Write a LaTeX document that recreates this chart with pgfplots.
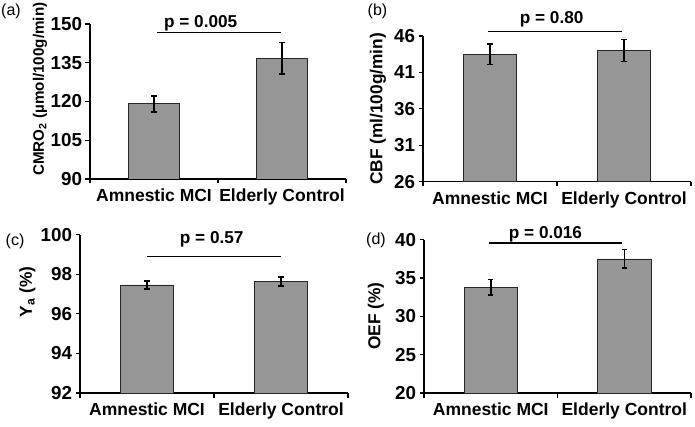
\documentclass[border=0pt]{standalone}
\usepackage{pgfplots}
\pgfplotsset{compat=1.18}
\usepackage{fontspec}
\setmainfont{Liberation Sans}
\definecolor{barfill}{RGB}{150,150,150}
\pgfplotsset{
  panel/.style={
    scale only axis,
    anchor=south west,
    axis x line*=bottom, axis y line*=left,
    axis line style={line width=1.2pt, black},
    xmin=0, xmax=2,
    xtick={0,1,2}, xticklabels={,,},
    extra x ticks={0.5,1.5},
    extra x tick labels={Amnestic MCI,Elderly Control},
    extra x tick style={major tick length=0pt, tick style={draw=none},
      xticklabel style={font=\fontsize{17.5}{20}\selectfont\bfseries, yshift=-6.5pt}},
    tick align=outside,
    major tick length=4.5pt,
    tick style={line width=1.2pt, black},
    yticklabel style={font=\fontsize{18.8}{20}\selectfont\bfseries},
    /pgf/number format/assume math mode=true,
    ylabel style={font=\fontsize{17.3}{20}\selectfont\bfseries, anchor=center},
    ybar, bar width=0.4,
    clip mode=individual,
  },
  bars/.style={fill=barfill, draw=black!85, line width=0.7pt,
    error bars/.cd, y dir=both, y explicit,
    error bar style={line width=1.5pt, black},
    error mark options={rotate=90, mark size=2.6pt, line width=1.5pt, black}},
}
\newcommand{\ptext}[1]{\fontsize{17.2}{20}\selectfont\bfseries #1}
\begin{document}
\begin{tikzpicture}
\useasboundingbox (0,0) rectangle (695pt,426pt);
% (a)
\begin{axis}[panel, at={(90pt,247pt)}, width=256pt, height=155pt,
  ymin=90, ymax=150, ytick={90,105,120,135,150},
  ylabel={CMRO\textsubscript{2} (µmol/100g/min)},
  ylabel style={font=\fontsize{15.2}{18}\selectfont\bfseries, at={(axis description cs:-0.195,0.58)}}]
\addplot[bars] coordinates {(0.5,119.1) +- (0,3.1) (1.5,136.7) +- (0,6.1)};
\draw[line width=1.4pt] (axis cs:0.523,146.6) -- (axis cs:1.49,146.6);
\node[anchor=base] at (axis cs:0.865,148.7) {\ptext{p = 0.005}};
\end{axis}
% (b)
\begin{axis}[panel, at={(423pt,244.3pt)}, width=268pt, height=145.7pt,
  ymin=26, ymax=46, ytick={26,31,36,41,46},
  ylabel={CBF (ml/100g/min)},
  ylabel style={at={(axis description cs:-0.168,0.5)}}]
\addplot[bars] coordinates {(0.5,43.5) +- (0,1.4) (1.5,44.0) +- (0,1.5)};
\draw[line width=1.4pt] (axis cs:0.485,46.6) -- (axis cs:1.485,46.6);
\node[anchor=base] at (axis cs:0.96,47.65) {\ptext{p = 0.80}};
\end{axis}
% (c)
\begin{axis}[panel, at={(80pt,33pt)}, width=268pt, height=158.3pt,
  ymin=92, ymax=100, ytick={92,94,96,98,100},
  ylabel={Y\textsubscript{a} (\%)},
  ylabel style={at={(axis description cs:-0.196,0.638)}}]
\addplot[bars] coordinates {(0.5,97.46) +- (0,0.21) (1.5,97.64) +- (0,0.22)};
\draw[line width=1.4pt] (axis cs:0.5,98.9) -- (axis cs:1.5,98.9);
\node[anchor=base] at (axis cs:0.983,99.55) {\ptext{p = 0.57}};
\end{axis}
% (d)
\begin{axis}[panel, at={(424pt,33pt)}, width=267pt, height=153.3pt,
  ymin=20, ymax=40, ytick={20,25,30,35,40},
  ylabel={OEF (\%)},
  ylabel style={at={(axis description cs:-0.18,0.5)}}]
\addplot[bars] coordinates {(0.5,33.8) +- (0,1.0) (1.5,37.5) +- (0,1.2)};
\draw[line width=1.4pt] (axis cs:0.487,39.57) -- (axis cs:1.483,39.57);
\node[anchor=base] at (axis cs:0.91,40.22) {\ptext{p = 0.016}};
\end{axis}
% panel letters
\node[font=\fontsize{16}{18}\selectfont] at (11pt,415pt) {(a)};
\node[font=\fontsize{16}{18}\selectfont] at (377.5pt,415pt) {(b)};
\node[font=\fontsize{16}{18}\selectfont] at (15pt,185pt) {(c)};
\node[font=\fontsize{16}{18}\selectfont] at (376pt,186pt) {(d)};
\end{tikzpicture}
\end{document}
